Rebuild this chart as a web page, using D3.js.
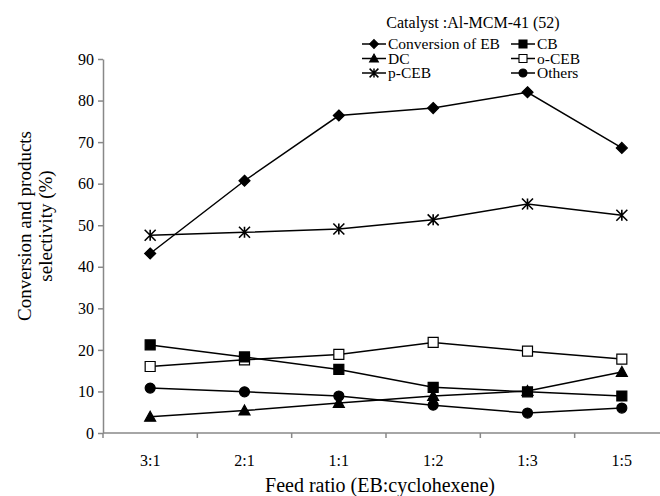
<!DOCTYPE html>
<html>
<head>
<meta charset="utf-8">
<script src="https://cdn.jsdelivr.net/npm/d3@7"></script>
<style>
  body { margin: 0; background: #fff; }
  svg text { font-family: "Liberation Serif", "Times New Roman", serif; }
</style>
</head>
<body>
<svg id="chart" width="660" height="496"></svg>
<script>
var ratios = ["3:1", "2:1", "1:1", "1:2", "1:3", "1:5"];
var conversionEB = [43.2, 60.7, 76.4, 78.2, 82.0, 68.6];
var cb = [21.2, 18.3, 15.3, 11.0, 9.9, 8.9];
var dc = [3.9, 5.4, 7.2, 8.9, 10.1, 14.7];
var oCeb = [16.0, 17.6, 18.9, 21.8, 19.7, 17.8];
var pCeb = [47.6, 48.3, 49.1, 51.3, 55.1, 52.4];
var others = [10.8, 9.9, 8.9, 6.7, 4.8, 6.0];
var yTicks = [0, 10, 20, 30, 40, 50, 60, 70, 80, 90];

// marker shapes, s = half size
var markers = {
  diamond: function(s) { return "M0," + (-s) + "L" + s + ",0L0," + s + "L" + (-s) + ",0Z"; },
  square: function(s) { return "M" + (-s) + "," + (-s) + "h" + (2 * s) + "v" + (2 * s) + "h" + (-2 * s) + "Z"; },
  triangle: function(s) { return "M0," + (-s) + "L" + s + "," + (s * 0.8) + "L" + (-s) + "," + (s * 0.8) + "Z"; },
  circle: function(s) { return "M" + s + ",0A" + s + "," + s + " 0 1,1 " + (-s) + ",0A" + s + "," + s + " 0 1,1 " + s + ",0Z"; },
  star: function(s) { return "M0," + (-s) + "V" + s + "M" + (-s) + "," + (-s) + "L" + s + "," + s + "M" + s + "," + (-s) + "L" + (-s) + "," + s; }
};

var series = [
  { name: "Conversion of EB", values: conversionEB, shape: "diamond", fill: "#000", size: 5.5 },
  { name: "CB", values: cb, shape: "square", fill: "#000", size: 5 },
  { name: "DC", values: dc, shape: "triangle", fill: "#000", size: 5.5 },
  { name: "o-CEB", values: oCeb, shape: "square", fill: "#fff", size: 5 },
  { name: "p-CEB", values: pCeb, shape: "star", fill: "none", size: 5.5 },
  { name: "Others", values: others, shape: "circle", fill: "#000", size: 5 }
];
// draw order so the filled CB square sits over the open one
var drawOrder = [3, 0, 2, 4, 5, 1];

var svg = d3.select("#chart");
var axisColor = "#888";

var x = d3.scaleBand().domain(ratios).range([103, 669]);
var y = d3.scaleLinear().domain([0, 90]).range([433, 59]);

// y axis
var yAxis = svg.append("g")
  .attr("transform", "translate(103,0)")
  .call(d3.axisLeft(y).tickValues(yTicks).tickSize(5).tickSizeOuter(0).tickPadding(4));
yAxis.select(".domain").attr("stroke", axisColor).attr("stroke-width", 1.5);
yAxis.selectAll(".tick line").attr("stroke", axisColor).attr("stroke-width", 1.5);
yAxis.selectAll(".tick text").attr("fill", "#000").attr("font-size", 16);

// x axis
svg.append("line")
  .attr("x1", 103).attr("x2", 669).attr("y1", 433).attr("y2", 433)
  .attr("stroke", axisColor).attr("stroke-width", 1.5);
var edges = ratios.map(function(r) { return x(r); }).concat([x.range()[1]]);
svg.selectAll(".xtick")
  .data(edges)
  .enter().append("line")
  .attr("class", "xtick")
  .attr("x1", function(d) { return d; }).attr("x2", function(d) { return d; })
  .attr("y1", 433).attr("y2", 438)
  .attr("stroke", axisColor).attr("stroke-width", 1.5);
svg.selectAll(".xlabel")
  .data(ratios)
  .enter().append("text")
  .attr("class", "xlabel")
  .attr("x", function(d) { return x(d) + x.bandwidth() / 2; })
  .attr("y", 466)
  .attr("text-anchor", "middle")
  .attr("font-size", 16)
  .text(function(d) { return d; });

// axis titles
svg.append("text")
  .attr("x", 380).attr("y", 492)
  .attr("text-anchor", "middle")
  .attr("font-size", 20)
  .text("Feed ratio (EB:cyclohexene)");

var yTitle = svg.append("text")
  .attr("transform", "translate(0,226) rotate(-90)")
  .attr("text-anchor", "middle")
  .attr("font-size", 19);
yTitle.append("tspan").attr("x", 0).attr("y", 31).text("Conversion and products");
yTitle.append("tspan").attr("x", 0).attr("y", 52).text("selectivity (%)");

// lines and markers
var line = d3.line()
  .x(function(d, i) { return x(ratios[i]) + x.bandwidth() / 2; })
  .y(function(d) { return y(d); });

drawOrder.forEach(function(k) {
  var s = series[k];
  var g = svg.append("g");
  g.append("path")
    .attr("d", line(s.values))
    .attr("fill", "none")
    .attr("stroke", "#000")
    .attr("stroke-width", 1.5);
  g.selectAll("path.mark")
    .data(s.values)
    .enter().append("path")
    .attr("class", "mark")
    .attr("transform", function(d, i) {
      return "translate(" + (x(ratios[i]) + x.bandwidth() / 2) + "," + y(d) + ")";
    })
    .attr("d", markers[s.shape](s.size))
    .attr("fill", s.fill)
    .attr("stroke", "#000")
    .attr("stroke-width", s.shape === "star" ? 1.6 : 1.2);
});

// legend
svg.append("text")
  .attr("x", 473).attr("y", 28)
  .attr("text-anchor", "middle")
  .attr("font-size", 16)
  .text("Catalyst :Al-MCM-41 (52)");

var legendCols = [362, 511];
var legendRows = [44, 58.5, 73];
var legend = svg.append("g");
var items = legend.selectAll("g")
  .data(series)
  .enter().append("g")
  .attr("transform", function(d, i) {
    return "translate(" + legendCols[i % 2] + "," + legendRows[Math.floor(i / 2)] + ")";
  });
items.append("line")
  .attr("x1", 0).attr("x2", 24)
  .attr("stroke", "#000").attr("stroke-width", 1.5);
items.append("path")
  .attr("transform", "translate(12,0)")
  .attr("d", function(d) { return markers[d.shape](d.size * 0.8); })
  .attr("fill", function(d) { return d.fill; })
  .attr("stroke", "#000")
  .attr("stroke-width", function(d) { return d.shape === "star" ? 1.5 : 1.1; });
items.append("text")
  .attr("x", 26)
  .attr("dy", "0.35em")
  .attr("font-size", 15.5)
  .text(function(d) { return d.name; });
</script>
</body>
</html>
